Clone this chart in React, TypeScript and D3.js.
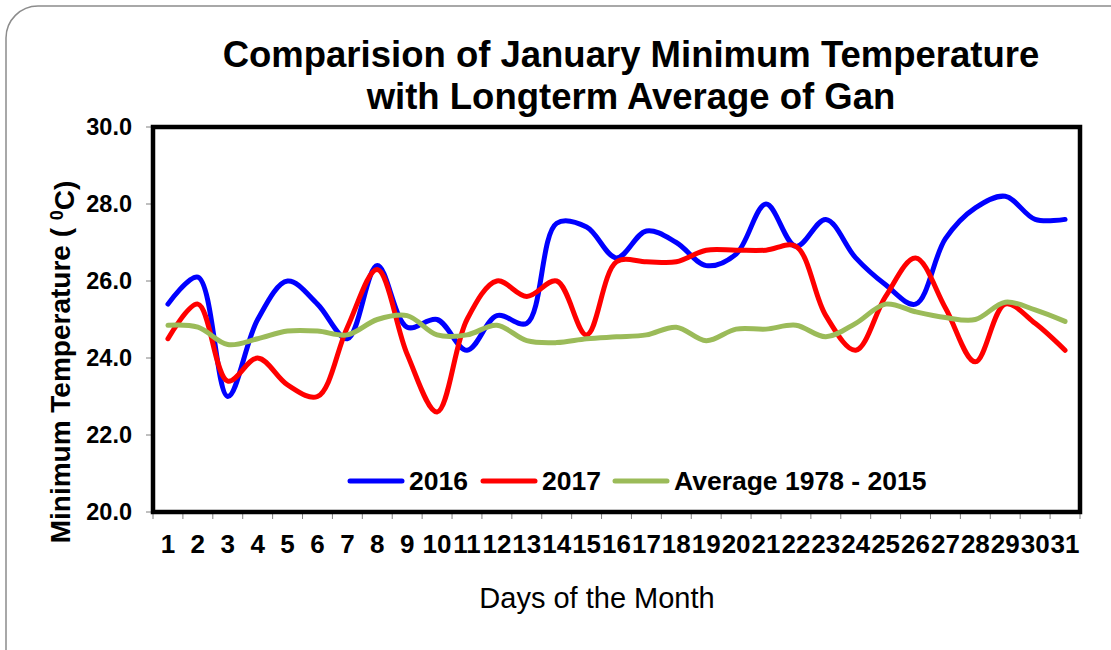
import { useEffect, useRef } from 'react';
import * as d3 from 'd3';

const days = d3.range(1, 32).map(String);

const temp2016 = [
  25.4, 26.1, 23.0, 25.0, 26.0, 25.4, 24.5, 26.4, 24.8, 25.0,
  24.2, 25.1, 24.9, 27.5, 27.4, 26.6, 27.3, 27.0, 26.4, 26.7,
  28.0, 26.9, 27.6, 26.6, 25.9, 25.4, 27.1, 27.9, 28.2, 27.6, 27.6,
];

const temp2017 = [
  24.5, 25.4, 23.4, 24.0, 23.3, 23.0, 24.8, 26.3, 24.1, 22.6,
  25.0, 26.0, 25.6, 26.0, 24.6, 26.5, 26.5, 26.5, 26.8, 26.8,
  26.8, 26.9, 25.1, 24.2, 25.6, 26.6, 25.3, 23.9, 25.4, 24.9, 24.2,
];

const tempAvg = [
  24.85, 24.8, 24.35, 24.5, 24.7, 24.7, 24.6, 25.0, 25.1, 24.6,
  24.6, 24.85, 24.45, 24.4, 24.5, 24.55, 24.6, 24.8, 24.45, 24.75,
  24.75, 24.85, 24.55, 24.9, 25.4, 25.2, 25.05, 25.0, 25.45, 25.25, 24.95,
];

const yTicks = [20, 22, 24, 26, 28, 30];

const series = [
  { name: '2016', values: temp2016, color: '#0000ff' },
  { name: '2017', values: temp2017, color: '#ff0000' },
  { name: 'Average 1978 - 2015', values: tempAvg, color: '#9bbb59' },
];

const W = 1111;
const H = 650;
const FONT = 'Liberation Sans, Arial, sans-serif';

export default function App() {
  const ref = useRef<SVGSVGElement>(null);

  useEffect(() => {
    document.body.style.margin = '0';
    const svg = d3.select(ref.current);
    svg.selectAll('*').remove();

    const m = { left: 153, right: 1080, top: 127, bottom: 512 };

    const x = d3.scaleBand().domain(days).range([m.left, m.right]);
    const y = d3.scaleLinear().domain([20, 30]).range([m.bottom, m.top]);

    // outer rounded border
    svg.append('rect')
      .attr('x', 6).attr('y', 6).attr('width', 1140).attr('height', 680)
      .attr('rx', 32).attr('fill', '#fff')
      .attr('stroke', '#8c8c8c').attr('stroke-width', 1.5);

    // title
    const title = svg.append('text')
      .attr('text-anchor', 'middle')
      .style('font-family', FONT).style('font-weight', 700).style('font-size', '36.5px');
    title.append('tspan').attr('x', 631).attr('y', 67).text('Comparision of January Minimum Temperature');
    title.append('tspan').attr('x', 631).attr('y', 109).text('with Longterm Average of Gan');

    // y ticks + labels
    const yAxis = svg.append('g');
    yTicks.forEach(t => {
      yAxis.append('line')
        .attr('x1', m.left - 7).attr('x2', m.left).attr('y1', y(t)).attr('y2', y(t))
        .attr('stroke', '#808080').attr('stroke-width', 1);
      yAxis.append('text')
        .attr('x', 132).attr('y', y(t)).attr('dy', '0.36em')
        .attr('text-anchor', 'end')
        .style('font-family', FONT).style('font-weight', 700).style('font-size', '23.5px')
        .text(d3.format('.1f')(t));
    });

    // x ticks + labels
    const xAxis = svg.append('g');
    days.forEach((d, i) => {
      const bx = x(d)!;
      xAxis.append('line')
        .attr('x1', bx).attr('x2', bx).attr('y1', m.bottom).attr('y2', m.bottom + 7)
        .attr('stroke', '#808080').attr('stroke-width', 1);
      if (i === days.length - 1) {
        xAxis.append('line')
          .attr('x1', bx + x.bandwidth()).attr('x2', bx + x.bandwidth())
          .attr('y1', m.bottom).attr('y2', m.bottom + 7)
          .attr('stroke', '#808080').attr('stroke-width', 1);
      }
      xAxis.append('text')
        .attr('x', bx + x.bandwidth() / 2).attr('y', 553)
        .attr('text-anchor', 'middle')
        .style('font-family', FONT).style('font-weight', 700).style('font-size', '26px')
        .text(d);
    });

    // axis titles
    const yt = svg.append('text')
      .attr('transform', `translate(70,362) rotate(-90)`)
      .attr('text-anchor', 'middle')
      .style('font-family', FONT).style('font-weight', 700).style('font-size', '28px');
    yt.append('tspan').text('Minimum Temperature ( ');
    yt.append('tspan').attr('dy', '-0.4em').style('font-size', '18px').text('0');
    yt.append('tspan').attr('dy', '0.4em').text('C)');

    svg.append('text')
      .attr('x', 597).attr('y', 608)
      .attr('text-anchor', 'middle')
      .style('font-family', FONT).style('font-size', '29px')
      .text('Days of the Month');

    // series lines
    const line = d3.line<number>()
      .x((_, i) => x(days[i])! + x.bandwidth() / 2)
      .y(v => y(v))
      .curve(d3.curveCatmullRom.alpha(0.5));

    svg.append('g').selectAll('path').data(series).join('path')
      .attr('d', s => line(s.values))
      .attr('fill', 'none')
      .attr('stroke', s => s.color)
      .attr('stroke-width', 5)
      .attr('stroke-linejoin', 'round')
      .attr('stroke-linecap', 'round');

    // frame
    svg.append('rect')
      .attr('x', m.left).attr('y', m.top)
      .attr('width', m.right - m.left).attr('height', m.bottom - m.top)
      .attr('fill', 'none').attr('stroke', '#000').attr('stroke-width', 4.5);

    // legend
    const legendX = [350, 483, 615];
    const leg = svg.append('g');
    series.forEach((s, i) => {
      const lx = legendX[i];
      leg.append('line')
        .attr('x1', lx).attr('x2', lx + 52).attr('y1', 481).attr('y2', 481)
        .attr('stroke', s.color).attr('stroke-width', 5).attr('stroke-linecap', 'round');
      leg.append('text')
        .attr('x', lx + 59).attr('y', 490)
        .style('font-family', FONT).style('font-weight', 700).style('font-size', '26.5px')
        .text(s.name);
    });
  }, []);

  return <svg ref={ref} width={W} height={H} style={{ display: 'block' }} />;
}
